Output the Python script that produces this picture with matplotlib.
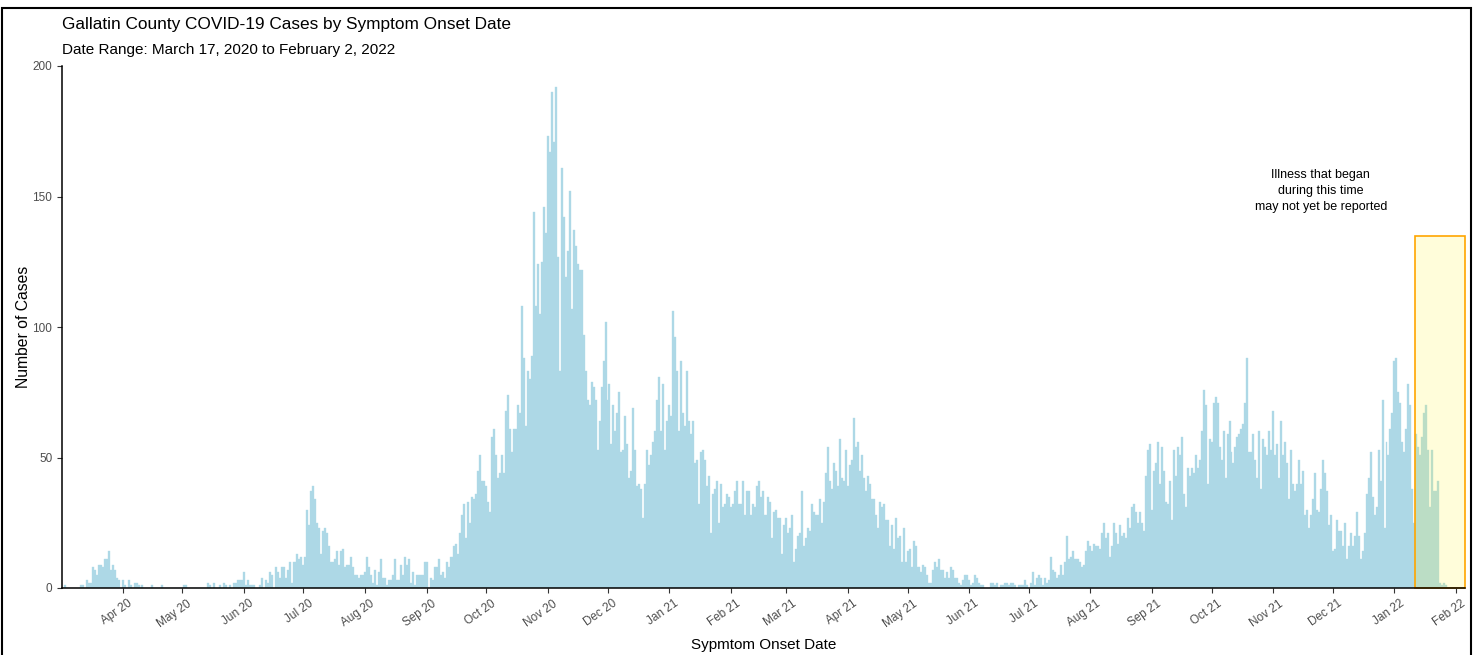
import matplotlib
matplotlib.use("Agg")
import matplotlib.pyplot as plt
import matplotlib.dates as mdates
from matplotlib.patches import Rectangle
import matplotlib.transforms as mtransforms
import pandas as pd

plt.rcParams['font.family'] = ['Liberation Sans', 'DejaVu Sans']

# daily cases by symptom onset date, one list per month
mar20 = [0, 1, 0, 0, 0, 0, 0, 0, 0, 1, 1, 0, 3, 2, 2, 8, 7, 5, 9, 9, 8, 11, 11, 14, 7, 9, 7, 4, 3, 0]
apr20 = [3, 1, 0, 3, 1, 0, 2, 2, 1, 0, 1, 0, 0, 0, 0, 1, 0, 0, 0, 0, 1, 0, 0, 0, 0, 0, 0, 0, 0, 0]
may20 = [0, 1, 1, 0, 0, 0, 0, 0, 0, 0, 0, 0, 0, 2, 1, 0, 2, 0, 0, 1, 0, 2, 1, 0, 1, 0, 2, 2, 3, 3, 3]
jun20 = [6, 1, 3, 1, 1, 1, 0, 0, 1, 4, 0, 3, 2, 6, 5, 0, 8, 6, 4, 8, 8, 4, 7, 10, 2, 10, 10, 13, 11, 12]
jul20 = [9, 12, 30, 24, 37, 39, 34, 25, 23, 13, 22, 23, 21, 16, 10, 10, 11, 14, 9, 14, 15, 8, 9, 9, 12, 8, 5, 5, 4, 5, 5]
aug20 = [6, 12, 8, 5, 2, 7, 1, 6, 11, 4, 4, 1, 3, 3, 5, 11, 3, 3, 9, 5, 12, 9, 11, 2, 6, 1, 5, 5, 5, 5, 10]
sep20 = [10, 0, 4, 3, 8, 8, 11, 5, 6, 4, 10, 8, 12, 12, 16, 17, 13, 21, 28, 32, 19, 33, 25, 35, 34, 36, 45, 51, 41, 41]
oct20 = [39, 33, 29, 58, 61, 51, 42, 44, 51, 44, 68, 74, 61, 52, 61, 61, 70, 67, 108, 88, 62, 83, 80, 89, 144, 108,
         124, 105, 125, 146, 136]
nov20 = [173, 167, 190, 171, 192, 127, 83, 161, 142, 119, 129, 152, 107, 137, 131, 124, 122, 122, 97, 83, 72, 70, 79,
         77, 72, 53, 64, 77, 87, 102]
dec20 = [72, 78, 55, 70, 60, 67, 75, 52, 53, 66, 55, 42, 45, 69, 53, 39, 40, 38, 27, 40, 53, 47, 51, 56, 60, 72, 81,
         60, 78, 53, 64]
jan21 = [70, 66, 106, 96, 83, 60, 87, 67, 62, 83, 64, 59, 64, 48, 49, 32, 52, 53, 49, 39, 43, 21, 36, 38, 41, 25, 40,
         31, 32, 36, 35]
feb21 = [31, 32, 37, 41, 32, 32, 41, 28, 37, 37, 28, 32, 31, 39, 41, 35, 37, 28, 28, 35, 33, 19, 29, 30, 27, 27, 13, 24]
mar21 = [27, 21, 23, 28, 10, 15, 20, 21, 37, 16, 19, 23, 22, 32, 29, 28, 28, 34, 25, 33, 44, 54, 41, 38, 48, 45, 39,
         57, 42, 41, 53]
apr21 = [39, 47, 49, 65, 54, 56, 45, 51, 42, 37, 43, 40, 34, 34, 28, 23, 33, 31, 32, 26, 26, 16, 24, 15, 27, 19, 20,
         10, 23, 10]
may21 = [14, 15, 8, 18, 16, 8, 8, 6, 9, 8, 5, 2, 2, 7, 10, 8, 11, 7, 7, 4, 6, 4, 8, 7, 4, 4, 2, 1, 3, 5, 5]
jun21 = [3, 1, 2, 5, 4, 2, 1, 1, 0, 0, 0, 2, 2, 1, 2, 0, 1, 1, 2, 2, 1, 2, 2, 1, 0, 1, 1, 1, 3, 1]
jul21 = [0, 2, 6, 1, 4, 5, 4, 1, 4, 2, 3, 12, 7, 6, 4, 5, 9, 5, 10, 20, 11, 12, 14, 11, 11, 11, 10, 8, 9, 14, 18]
aug21 = [16, 14, 17, 16, 16, 15, 21, 25, 19, 21, 12, 16, 25, 21, 17, 24, 20, 21, 19, 27, 23, 31, 32, 29, 25, 29, 25,
         22, 43, 53, 55]
sep21 = [30, 45, 48, 56, 40, 54, 45, 33, 32, 41, 26, 53, 43, 54, 51, 58, 36, 31, 46, 43, 46, 44, 51, 46, 49, 60, 76,
         70, 40, 57]
oct21 = [56, 71, 73, 71, 54, 49, 60, 42, 59, 64, 52, 48, 54, 58, 59, 61, 63, 71, 88, 52, 52, 59, 49, 42, 60, 38, 57,
         54, 51, 60, 53]
nov21 = [68, 51, 55, 42, 64, 51, 56, 48, 34, 53, 40, 37, 40, 49, 40, 45, 28, 30, 23, 28, 34, 44, 30, 29, 38, 49, 44,
         37, 24, 28]
dec21 = [14, 15, 26, 22, 22, 16, 25, 11, 16, 21, 16, 20, 29, 20, 11, 14, 21, 36, 42, 52, 35, 28, 31, 53, 41, 72, 23,
         56, 51, 61, 67]
jan22 = [87, 88, 75, 71, 56, 52, 61, 78, 70, 38, 25, 59, 54, 51, 58, 67, 70, 53, 31, 53, 37, 37, 41, 2, 1, 2, 1, 0, 0,
         0, 0]
feb22 = [0, 0]

month_starts = ["2020-03-02", "2020-04-01", "2020-05-01", "2020-06-01", "2020-07-01", "2020-08-01",
                "2020-09-01", "2020-10-01", "2020-11-01", "2020-12-01", "2021-01-01", "2021-02-01",
                "2021-03-01", "2021-04-01", "2021-05-01", "2021-06-01", "2021-07-01", "2021-08-01",
                "2021-09-01", "2021-10-01", "2021-11-01", "2021-12-01", "2022-01-01", "2022-02-01"]
month_values = [mar20, apr20, may20, jun20, jul20, aug20, sep20, oct20, nov20, dec20, jan21, feb21,
                mar21, apr21, may21, jun21, jul21, aug21, sep21, oct21, nov21, dec21, jan22, feb22]

# "may not yet be reported" window
lag_start = pd.Timestamp("2022-01-11 12:00")
lag_top = 135

dates = []
cases = []
for start, vals in zip(month_starts, month_values):
    dates += list(pd.date_range(start, periods=len(vals), freq="D"))
    cases += vals

fig = plt.figure(figsize=(14.73, 6.55), dpi=100)
ax = fig.add_axes([62 / 1473, 1 - 588 / 655, (1465 - 62) / 1473, (588 - 66) / 655])

ax.bar(dates, cases, width=1.0, color="lightblue", edgecolor="lightblue", linewidth=0.25)

x_left = pd.Timestamp("2020-03-01 12:00")
x_right = pd.Timestamp("2022-02-05 12:00")
ax.set_xlim(x_left, x_right)
ax.set_ylim(0, 200)

# shaded reporting-lag box
x0 = mdates.date2num(lag_start)
x1 = mdates.date2num(x_right)
ax.add_patch(Rectangle((x0, 0), x1 - x0, lag_top, facecolor=(1, 0.96, 0.2, 0.18),
                       edgecolor="orange", linewidth=1.2, zorder=3, clip_on=False))
ax.text(pd.Timestamp("2021-11-25"), 152, "Illness that began\nduring this time\nmay not yet be reported",
        ha="center", va="center", fontsize=9, linespacing=1.45, color="black")

ax.xaxis.set_major_locator(mdates.MonthLocator())
ax.xaxis.set_major_formatter(mdates.DateFormatter("%b %y"))
ax.set_yticks([0, 50, 100, 150, 200])

for s in ["top", "right"]:
    ax.spines[s].set_visible(False)
for s in ["left", "bottom"]:
    ax.spines[s].set_linewidth(1.1)
    ax.spines[s].set_color("black")
    ax.spines[s].set_zorder(4)

ax.tick_params(axis="both", colors="#333333", labelcolor="#4d4d4d", labelsize=8.5, length=3.5, width=0.8)
offset = mtransforms.ScaledTranslation(5 / 100, 0, fig.dpi_scale_trans)
for lbl in ax.get_xticklabels():
    lbl.set_rotation(35)
    lbl.set_ha("right")
    lbl.set_rotation_mode("anchor")
    lbl.set_transform(lbl.get_transform() + offset)

ax.set_xlabel("Sypmtom Onset Date", fontsize=11, labelpad=6)
ax.set_ylabel("Number of Cases", fontsize=11.3, labelpad=1)

fig.text(62 / 1473, 1 - 25 / 655, "Gallatin County COVID-19 Cases by Symptom Onset Date", fontsize=12.4, va="center")
fig.text(62 / 1473, 1 - 50 / 655, "Date Range: March 17, 2020 to February 2, 2022", fontsize=11, va="center")

# outer frame of the graphic
fig.patches.append(Rectangle((2 / 1473, -0.01), 1 - 4 / 1473, 1 - 8 / 655 + 0.01, transform=fig.transFigure,
                             fill=False, edgecolor="black", linewidth=1.5))

fig.savefig("out.png", dpi=100)
